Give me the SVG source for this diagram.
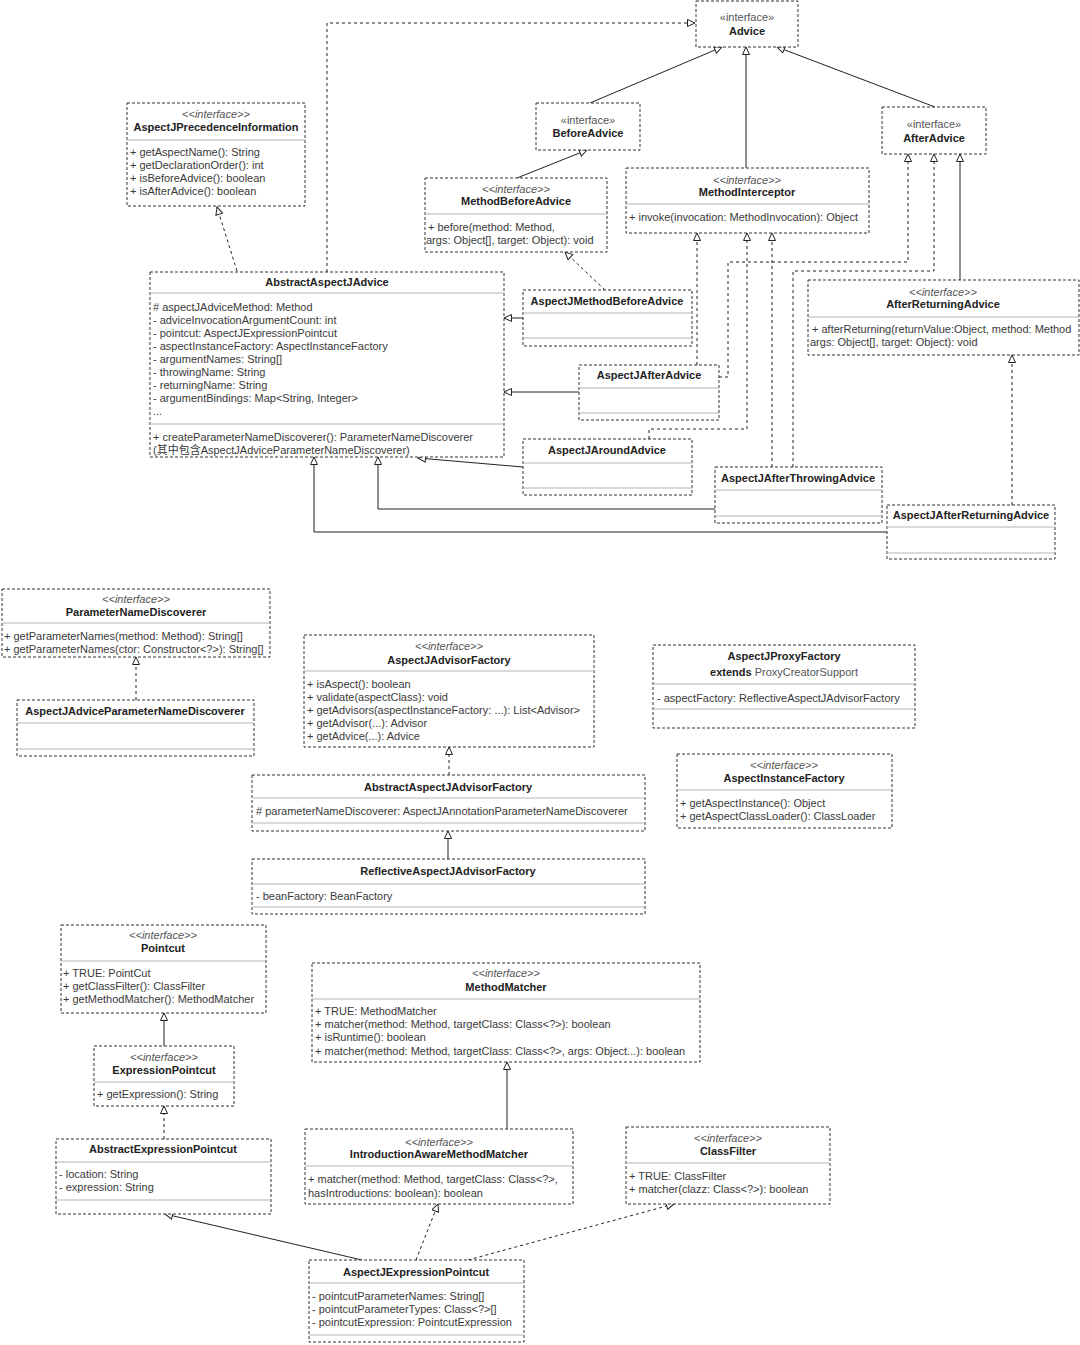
<svg xmlns="http://www.w3.org/2000/svg" width="1080" height="1345" viewBox="0 0 1080 1345">
<style>
.box{fill:#fff;stroke:#333;stroke-width:1;stroke-dasharray:3 2}
.dv{stroke:#b5b5b5;stroke-width:1}
text{font-family:"Liberation Sans",Arial,"Noto Sans CJK SC",sans-serif;font-size:11px;fill:#3a3a3a}
.n{font-weight:bold;fill:#222;text-anchor:middle}
.s{font-style:italic;fill:#555;text-anchor:middle}
.g{fill:#555;text-anchor:middle}
.sl{fill:none;stroke:#222;stroke-width:1;marker-end:url(#tri)}
.ds{fill:none;stroke:#222;stroke-width:1;stroke-dasharray:3 3;marker-end:url(#tri)}
</style>
<defs>
<marker id="tri" markerUnits="userSpaceOnUse" markerWidth="10" markerHeight="10" refX="8.5" refY="4" orient="auto">
<path d="M1,0.5 L8.5,4 L1,7.5 Z" fill="#fff" stroke="#222" stroke-width="1" stroke-dasharray="none"/>
</marker>
</defs>
<rect width="1080" height="1345" fill="#fff"/>

<g id="connectors">
<path class="ds" d="M327,272 V23 H695"/>
<path class="ds" d="M237,271 L217,207"/>
<path class="sl" d="M590,103 L722,47"/>
<path class="sl" d="M746,168 V47"/>
<path class="sl" d="M935,107 L777,47"/>
<path class="sl" d="M517,178 L587,150"/>
<path class="sl" d="M960,280 V154"/>
<path class="sl" d="M523,318 H504"/>
<path class="ds" d="M605,290 L565,252"/>
<path class="sl" d="M579,392 H504"/>
<path class="ds" d="M697,365 V233"/>
<path class="ds" d="M719,377 H728 V262 H908 V154"/>
<path class="sl" d="M523,467 L418,458"/>
<path class="ds" d="M649,439 V429 H747 V233"/>
<path class="sl" d="M715,509 H378 V457"/>
<path class="ds" d="M772,467 V233"/>
<path class="ds" d="M793,467 V271 H934 V154"/>
<path class="sl" d="M887,532 H314 V457"/>
<path class="ds" d="M1012,505 V355"/>
<path class="ds" d="M136,700 V657"/>
<path class="ds" d="M449,775 V747"/>
<path class="sl" d="M448,859 V831"/>
<path class="sl" d="M164,1046 V1013"/>
<path class="ds" d="M164,1139 V1106"/>
<path class="sl" d="M507,1129 V1062"/>
<path class="sl" d="M362,1260 L165,1214"/>
<path class="ds" d="M416,1260 L438,1204"/>
<path class="ds" d="M468,1260 L674,1204"/>
</g>

<g id="Advice">
<rect class="box" x="696" y="1" width="102" height="46"/>
<text class="g" x="747" y="21">«interface»</text>
<text class="n" x="747" y="35">Advice</text>
</g>

<g id="BeforeAdvice">
<rect class="box" x="536" y="103" width="104" height="47"/>
<text class="g" x="588" y="124">«interface»</text>
<text class="n" x="588" y="137">BeforeAdvice</text>
</g>

<g id="AfterAdvice">
<rect class="box" x="882" y="107" width="104" height="47"/>
<text class="g" x="934" y="128">«interface»</text>
<text class="n" x="934" y="142">AfterAdvice</text>
</g>

<g id="AspectJPrecedenceInformation">
<rect class="box" x="127" y="103" width="178" height="103"/>
<text class="s" x="216" y="118">&lt;&lt;interface&gt;&gt;</text>
<text class="n" x="216" y="131">AspectJPrecedenceInformation</text>
<line class="dv" x1="127" y1="140" x2="305" y2="140"/>
<text x="130" y="156">+ getAspectName(): String</text>
<text x="130" y="169">+ getDeclarationOrder(): int</text>
<text x="130" y="182">+ isBeforeAdvice(): boolean</text>
<text x="130" y="195">+ isAfterAdvice(): boolean</text>
</g>

<g id="MethodBeforeAdvice">
<rect class="box" x="425" y="178" width="182" height="74"/>
<text class="s" x="516" y="193">&lt;&lt;interface&gt;&gt;</text>
<text class="n" x="516" y="205">MethodBeforeAdvice</text>
<line class="dv" x1="425" y1="214" x2="607" y2="214"/>
<text x="428" y="231">+ before(method: Method,</text>
<text x="426" y="244">args: Object[], target: Object): void</text>
</g>

<g id="MethodInterceptor">
<rect class="box" x="626" y="168" width="243" height="65"/>
<text class="s" x="747" y="184">&lt;&lt;interface&gt;&gt;</text>
<text class="n" x="747" y="196">MethodInterceptor</text>
<line class="dv" x1="626" y1="204" x2="869" y2="204"/>
<text x="629" y="221">+ invoke(invocation: MethodInvocation): Object</text>
</g>

<g id="AfterReturningAdvice">
<rect class="box" x="808" y="280" width="271" height="75"/>
<text class="s" x="943" y="296">&lt;&lt;interface&gt;&gt;</text>
<text class="n" x="943" y="308">AfterReturningAdvice</text>
<line class="dv" x1="808" y1="317" x2="1079" y2="317"/>
<text x="812" y="333">+ afterReturning(returnValue:Object, method: Method</text>
<text x="810" y="346">args: Object[], target: Object): void</text>
</g>

<g id="AbstractAspectJAdvice">
<rect class="box" x="150" y="272" width="354" height="185"/>
<text class="n" x="327" y="286">AbstractAspectJAdvice</text>
<line class="dv" x1="150" y1="293" x2="504" y2="293"/>
<text x="153" y="311"># aspectJAdviceMethod: Method</text>
<text x="153" y="324">- adviceInvocationArgumentCount: int</text>
<text x="153" y="337">- pointcut: AspectJExpressionPointcut</text>
<text x="153" y="350">- aspectInstanceFactory: AspectInstanceFactory</text>
<text x="153" y="363">- argumentNames: String[]</text>
<text x="153" y="376">- throwingName: String</text>
<text x="153" y="389">- returningName: String</text>
<text x="153" y="402">- argumentBindings: Map&lt;String, Integer&gt;</text>
<text x="153" y="415">...</text>
<line class="dv" x1="150" y1="424" x2="504" y2="424"/>
<text x="153" y="441">+ createParameterNameDiscoverer(): ParameterNameDiscoverer</text>
<text x="153" y="454">(其中包含AspectJAdviceParameterNameDiscoverer)</text>
</g>

<g id="AspectJMethodBeforeAdvice">
<rect class="box" x="523" y="290" width="169" height="56"/>
<text class="n" x="607" y="305">AspectJMethodBeforeAdvice</text>
<line class="dv" x1="523" y1="313" x2="692" y2="313"/>
<line class="dv" x1="523" y1="338" x2="692" y2="338"/>
</g>

<g id="AspectJAfterAdvice">
<rect class="box" x="579" y="365" width="140" height="55"/>
<text class="n" x="649" y="379">AspectJAfterAdvice</text>
<line class="dv" x1="579" y1="388" x2="719" y2="388"/>
<line class="dv" x1="579" y1="413" x2="719" y2="413"/>
</g>

<g id="AspectJAroundAdvice">
<rect class="box" x="523" y="439" width="169" height="56"/>
<text class="n" x="607" y="454">AspectJAroundAdvice</text>
<line class="dv" x1="523" y1="463" x2="692" y2="463"/>
<line class="dv" x1="523" y1="488" x2="692" y2="488"/>
</g>

<g id="AspectJAfterThrowingAdvice">
<rect class="box" x="715" y="467" width="167" height="56"/>
<text class="n" x="798" y="482">AspectJAfterThrowingAdvice</text>
<line class="dv" x1="715" y1="490" x2="882" y2="490"/>
<line class="dv" x1="715" y1="516" x2="882" y2="516"/>
</g>

<g id="AspectJAfterReturningAdvice">
<rect class="box" x="887" y="505" width="168" height="54"/>
<text class="n" x="971" y="519">AspectJAfterReturningAdvice</text>
<line class="dv" x1="887" y1="527" x2="1055" y2="527"/>
<line class="dv" x1="887" y1="553" x2="1055" y2="553"/>
</g>

<g id="ParameterNameDiscoverer">
<rect class="box" x="2" y="589" width="268" height="68"/>
<text class="s" x="136" y="603">&lt;&lt;interface&gt;&gt;</text>
<text class="n" x="136" y="616">ParameterNameDiscoverer</text>
<line class="dv" x1="2" y1="623" x2="270" y2="623"/>
<text x="4" y="640">+ getParameterNames(method: Method): String[]</text>
<text x="4" y="653">+ getParameterNames(ctor: Constructor&lt;?&gt;): String[]</text>
</g>

<g id="AspectJAdviceParameterNameDiscoverer">
<rect class="box" x="17" y="700" width="237" height="56"/>
<text class="n" x="135" y="715">AspectJAdviceParameterNameDiscoverer</text>
<line class="dv" x1="17" y1="723" x2="254" y2="723"/>
<line class="dv" x1="17" y1="749" x2="254" y2="749"/>
</g>

<g id="AspectJAdvisorFactory">
<rect class="box" x="304" y="635" width="290" height="112"/>
<text class="s" x="449" y="650">&lt;&lt;interface&gt;&gt;</text>
<text class="n" x="449" y="664">AspectJAdvisorFactory</text>
<line class="dv" x1="304" y1="671" x2="594" y2="671"/>
<text x="307" y="688">+ isAspect(): boolean</text>
<text x="307" y="701">+ validate(aspectClass): void</text>
<text x="307" y="714">+ getAdvisors(aspectInstanceFactory: ...): List&lt;Advisor&gt;</text>
<text x="307" y="727">+ getAdvisor(...): Advisor</text>
<text x="307" y="740">+ getAdvice(...): Advice</text>
</g>

<g id="AspectJProxyFactory">
<rect class="box" x="653" y="645" width="262" height="83"/>
<text class="n" x="784" y="660">AspectJProxyFactory</text>
<text class="g" x="784" y="676"><tspan font-weight="bold" fill="#222">extends</tspan> ProxyCreatorSupport</text>
<line class="dv" x1="653" y1="684" x2="915" y2="684"/>
<text x="657" y="702">- aspectFactory: ReflectiveAspectJAdvisorFactory</text>
<line class="dv" x1="653" y1="709" x2="915" y2="709"/>
</g>

<g id="AspectInstanceFactory">
<rect class="box" x="677" y="754" width="215" height="74"/>
<text class="s" x="784" y="769">&lt;&lt;interface&gt;&gt;</text>
<text class="n" x="784" y="782">AspectInstanceFactory</text>
<line class="dv" x1="677" y1="790" x2="892" y2="790"/>
<text x="680" y="807">+ getAspectInstance(): Object</text>
<text x="680" y="820">+ getAspectClassLoader(): ClassLoader</text>
</g>

<g id="AbstractAspectJAdvisorFactory">
<rect class="box" x="252" y="775" width="393" height="56"/>
<text class="n" x="448" y="791">AbstractAspectJAdvisorFactory</text>
<line class="dv" x1="252" y1="798" x2="645" y2="798"/>
<text x="256" y="815"># parameterNameDiscoverer: AspectJAnnotationParameterNameDiscoverer</text>
<line class="dv" x1="252" y1="823" x2="645" y2="823"/>
</g>

<g id="ReflectiveAspectJAdvisorFactory">
<rect class="box" x="252" y="859" width="393" height="55"/>
<text class="n" x="448" y="875">ReflectiveAspectJAdvisorFactory</text>
<line class="dv" x1="252" y1="884" x2="645" y2="884"/>
<text x="256" y="900">- beanFactory: BeanFactory</text>
<line class="dv" x1="252" y1="907" x2="645" y2="907"/>
</g>

<g id="Pointcut">
<rect class="box" x="61" y="925" width="205" height="88"/>
<text class="s" x="163" y="939">&lt;&lt;interface&gt;&gt;</text>
<text class="n" x="163" y="952">Pointcut</text>
<line class="dv" x1="61" y1="961" x2="266" y2="961"/>
<text x="63" y="977">+ TRUE: PointCut</text>
<text x="63" y="990">+ getClassFilter(): ClassFilter</text>
<text x="63" y="1003">+ getMethodMatcher(): MethodMatcher</text>
</g>

<g id="ExpressionPointcut">
<rect class="box" x="94" y="1046" width="140" height="60"/>
<text class="s" x="164" y="1061">&lt;&lt;interface&gt;&gt;</text>
<text class="n" x="164" y="1074">ExpressionPointcut</text>
<line class="dv" x1="94" y1="1082" x2="234" y2="1082"/>
<text x="97" y="1098">+ getExpression(): String</text>
</g>

<g id="MethodMatcher">
<rect class="box" x="312" y="963" width="388" height="99"/>
<text class="s" x="506" y="977">&lt;&lt;interface&gt;&gt;</text>
<text class="n" x="506" y="991">MethodMatcher</text>
<line class="dv" x1="312" y1="999" x2="700" y2="999"/>
<text x="315" y="1015">+ TRUE: MethodMatcher</text>
<text x="315" y="1028">+ matcher(method: Method, targetClass: Class&lt;?&gt;): boolean</text>
<text x="315" y="1041">+ isRuntime(): boolean</text>
<text x="315" y="1055">+ matcher(method: Method, targetClass: Class&lt;?&gt;, args: Object...): boolean</text>
</g>

<g id="AbstractExpressionPointcut">
<rect class="box" x="56" y="1139" width="215" height="75"/>
<text class="n" x="163" y="1153">AbstractExpressionPointcut</text>
<line class="dv" x1="56" y1="1162" x2="271" y2="1162"/>
<text x="59" y="1178">- location: String</text>
<text x="59" y="1191">- expression: String</text>
<line class="dv" x1="56" y1="1200" x2="271" y2="1200"/>
</g>

<g id="IntroductionAwareMethodMatcher">
<rect class="box" x="305" y="1129" width="268" height="75"/>
<text class="s" x="439" y="1146">&lt;&lt;interface&gt;&gt;</text>
<text class="n" x="439" y="1158">IntroductionAwareMethodMatcher</text>
<line class="dv" x1="305" y1="1166" x2="573" y2="1166"/>
<text x="308" y="1183">+ matcher(method: Method, targetClass: Class&lt;?&gt;,</text>
<text x="308" y="1197">hasIntroductions: boolean): boolean</text>
</g>

<g id="ClassFilter">
<rect class="box" x="626" y="1127" width="204" height="77"/>
<text class="s" x="728" y="1142">&lt;&lt;interface&gt;&gt;</text>
<text class="n" x="728" y="1155">ClassFilter</text>
<line class="dv" x1="626" y1="1163" x2="830" y2="1163"/>
<text x="629" y="1180">+ TRUE: ClassFilter</text>
<text x="629" y="1193">+ matcher(clazz: Class&lt;?&gt;): boolean</text>
</g>

<g id="AspectJExpressionPointcut">
<rect class="box" x="309" y="1260" width="215" height="82"/>
<text class="n" x="416" y="1276">AspectJExpressionPointcut</text>
<line class="dv" x1="309" y1="1283" x2="524" y2="1283"/>
<text x="312" y="1300">- pointcutParameterNames: String[]</text>
<text x="312" y="1313">- pointcutParameterTypes: Class&lt;?&gt;[]</text>
<text x="312" y="1326">- pointcutExpression: PointcutExpression</text>
<line class="dv" x1="309" y1="1335" x2="524" y2="1335"/>
</g>
</svg>
